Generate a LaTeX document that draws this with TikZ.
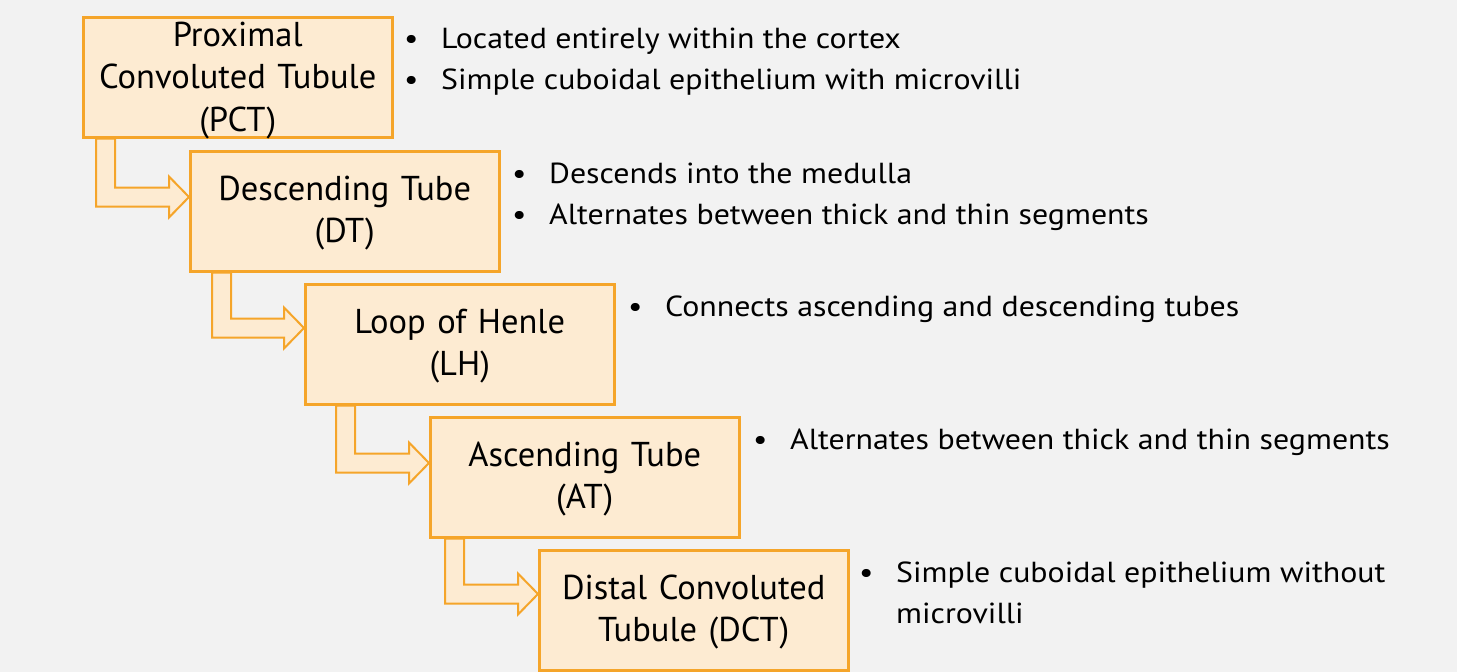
\documentclass[tikz,border=0pt]{standalone}
\usepackage{fontspec}
\setmainfont{PT Sans}
\newfontfamily\boxfont{PT Sans}
\newfontfamily\listfont{PT Sans}[FakeStretch=1.1]
\usetikzlibrary{calc}
\definecolor{bg}{HTML}{F2F2F2}
\definecolor{boxfill}{HTML}{FDEBD2}
\definecolor{boxline}{HTML}{F5A52A}
\tikzset{
  stagebox/.style={draw=boxline, fill=boxfill, line width=2.5pt, inner sep=0pt,
    minimum width=309pt, minimum height=120pt, text width=305pt, align=center,
    anchor=north west, font=\boxfont\fontsize{34.5}{42.5}\selectfont},
  stagetext/.style={inner sep=0pt, text width=305pt, align=center,
    font=\boxfont\fontsize{34.5}{42.5}\selectfont},
  bulletline/.style={anchor=base west, inner sep=0pt, font=\listfont\fontsize{29}{41}\selectfont},
  bentarrow/.style={draw=boxline, fill=boxfill, line width=2pt, line join=miter}
}
\newcommand\bul{\makebox[40pt][l]{\hspace{3pt}\textbullet}}
% #1 from node, #2 to node, #3 x offset of shaft, #4 tip drop below top of target
\newcommand\bentarr[4]{%
  \path[bentarrow] let \p1=(#1.south west), \p2=(#2.north west) in
    (\x1+#3pt, \y1) -- (\x1+#3pt, \y2-#4pt-9.5pt) -- (\x2-20pt, \y2-#4pt-9.5pt)
    -- (\x2-20pt, \y2-#4pt-20.5pt) -- (\x2, \y2-#4pt) -- (\x2-20pt, \y2-#4pt+20.5pt)
    -- (\x2-20pt, \y2-#4pt+9.5pt) -- (\x1+#3pt+19pt, \y2-#4pt+9.5pt)
    -- (\x1+#3pt+19pt, \y1) -- cycle;}
\begin{document}
\begin{tikzpicture}[x=1pt, y=-1pt]
\fill[bg] (0,0) rectangle (1457,672);
\useasboundingbox (0,0) rectangle (1457,672);

\node[stagebox] (pct) at (82,16)  {};
\node[stagebox] (dt)  at (189,150) {};
\node[stagebox] (lh)  at (304,283) {};
\node[stagebox] (at)  at (429,416) {};
\node[stagebox] (dct) at (538,549) {};
\node[stagetext] (pctt) at ([yshift=-3pt]pct.center) {Proximal\\Convoluted Tubule\\(PCT)};
\node[stagetext] (dtt)  at ([yshift=-2pt]dt.center) {Descending Tube\\(DT)};
\node[stagetext] (lht)  at ([yshift=-2pt]lh.center) {Loop of Henle\\(LH)};
\node[stagetext] (att)  at ([yshift=-2pt]at.center) {Ascending Tube\\(AT)};
\node[stagetext] (dctt) at ([yshift=-2pt]dct.center) {Distal Convoluted\\Tubule (DCT)};

\bentarr{pct}{dt}{14}{47}
\bentarr{dt}{lh}{23}{45}
\bentarr{lh}{at}{32}{47}
\bentarr{at}{dct}{16}{45}

\node[bulletline] (p1) at (401,48) {\bul Located entirely within the cortex};
\node[bulletline] (p2) at (401,89) {\bul Simple cuboidal epithelium with microvilli};
\node[bulletline] (d1) at (509,183) {\bul Descends into the medulla};
\node[bulletline] (d2) at (509,224) {\bul Alternates between thick and thin segments};
\node[bulletline] (l1) at (625,316) {\bul Connects ascending and descending tubes};
\node[bulletline] (a1) at (750,449) {\bul Alternates between thick and thin segments};
\node[bulletline] (c1) at (856,582) {\bul Simple cuboidal epithelium without};
\node[bulletline] (c2) at (856,623) {\hspace*{40pt}microvilli};
\end{tikzpicture}
\end{document}
